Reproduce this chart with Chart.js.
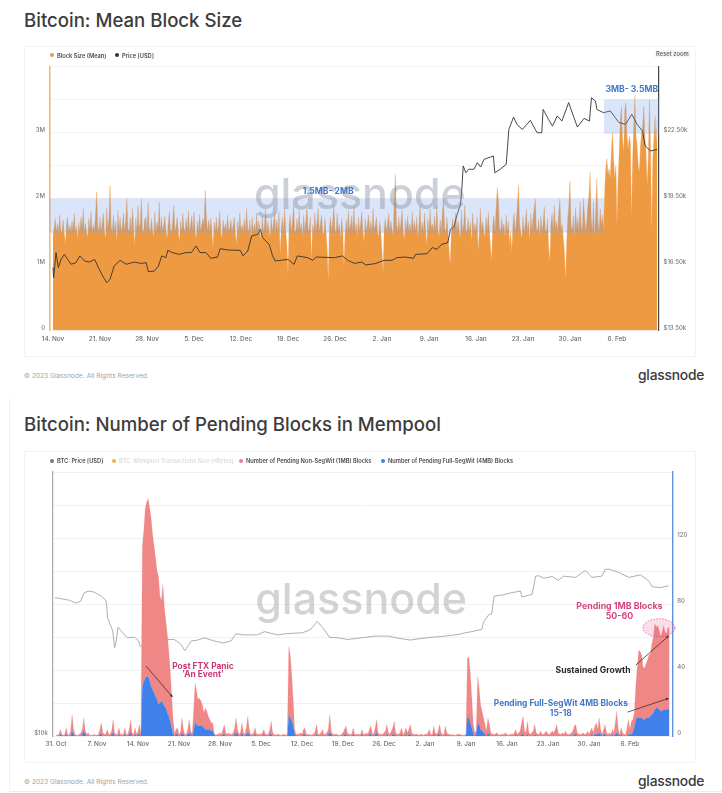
<!DOCTYPE html>
<html>
<head>
<meta charset="utf-8">
<title>Bitcoin block size and pending blocks</title>
<script src="https://cdn.jsdelivr.net/npm/chart.js@4/dist/chart.umd.min.js"></script>
<style>
  html, body { margin: 0; padding: 0; background: #fff; }
  body { position: relative; width: 722px; height: 793px; overflow: hidden; font-family: Inter, sans-serif; }
  .abs { position: absolute; white-space: nowrap; line-height: 1; }
  .title { left: 24px; font-size: 18.6px; font-weight: 500; color: #3c3c3c; }
  .panel { position: absolute; left: 24px; width: 670px; border: 1px solid #f4f4f4; }
  canvas { position: absolute; left: 0; top: 0; filter: blur(0.3px); }
  .legend { font-size: 5.7px; font-weight: 600; color: #4a4a4a; }
  .dot { position: absolute; width: 4px; height: 4px; border-radius: 50%; }
  .reset { left: 654px; top: 50px; padding: 1px 2px; font-size: 5.8px; font-weight: 600; color: #666; background: #f8f8f8; }
  .copy { left: 24px; font-size: 6.6px; color: #a2a2a2; }
  .logo { left: 638px; font-size: 13.8px; font-weight: 500; color: #383838; letter-spacing: -0.2px; }
  .frame { position: absolute; left: 9px; right: 0; top: 398px; bottom: 1px; border-left: 1px solid #f2f2f2; border-bottom: 1px solid #ececec; }
</style>
</head>
<body>
<div class="frame"></div>

<div class="abs title" style="top:11px">Bitcoin: Mean Block Size</div>
<div class="panel" style="top:46px;height:309px"><canvas id="block-chart" width="672" height="310"></canvas></div>
<span class="dot" style="left:50px;top:53px;background:#ee9a43"></span>
<div class="abs legend" style="left:57px;top:52.5px">Block Size (Mean)</div>
<span class="dot" style="left:115px;top:53px;background:#333"></span>
<div class="abs legend" style="left:122px;top:52.5px">Price [USD]</div>
<div class="abs reset">Reset zoom</div>
<div class="abs copy" style="top:373px">© 2023 Glassnode. All Rights Reserved.</div>
<div class="abs logo" style="top:369px">glassnode</div>

<div class="abs title" style="top:415px">Bitcoin: Number of Pending Blocks in Mempool</div>
<div class="panel" style="top:451px;height:310px"><canvas id="pending-chart" width="672" height="311"></canvas></div>
<span class="dot" style="left:50px;top:458.5px;background:#777"></span>
<div class="abs legend" style="left:57px;top:458px">BTC: Price [USD]</div>
<span class="dot" style="left:112px;top:458.5px;background:#e9b04c"></span>
<div class="abs legend" style="left:119px;top:458px;color:#dcdcdc">BTC: Mempool Transactions Size (vBytes)</div>
<span class="dot" style="left:239px;top:458.5px;background:#e8828a"></span>
<div class="abs legend" style="left:246px;top:458px">Number of Pending Non-SegWit (1MB) Blocks</div>
<span class="dot" style="left:381px;top:458.5px;background:#3f80ea"></span>
<div class="abs legend" style="left:388px;top:458px">Number of Pending Full-SegWit (4MB) Blocks</div>
<div class="abs copy" style="top:779px">© 2023 Glassnode. All Rights Reserved.</div>
<div class="abs logo" style="top:775px">glassnode</div>

<script>
// top chart: days count from 14 Nov, one block size reading every sixth of a day
const blockXTickDays = [0, 7, 14, 21, 28, 35, 42, 49, 56, 63, 70, 77, 84];
const blockXTickLabels = ['14. Nov', '21. Nov', '28. Nov', '5. Dec', '12. Dec', '19. Dec', '26. Dec', '2. Jan', '9. Jan', '16. Jan', '23. Jan', '30. Jan', '6. Feb'];
const blockSizeTicks = [0, 0.5, 1, 1.5, 2, 2.5, 3, 3.5, 4];
const priceTicksTop = [13.5, 16.5, 19.5, 22.5, 25.5];
const blockSizeM = [
  1.45,1.55,1.70,1.50,1.62,1.50,1.75,1.52,1.48,1.68,1.50,1.30,1.58,1.72,1.50,1.60,1.50,1.66,1.52,1.78,
  1.50,1.58,1.40,1.64,1.50,1.72,1.55,1.85,1.50,1.62,1.50,1.42,1.70,1.52,1.80,1.50,1.60,1.52,1.75,2.10,
  1.60,1.50,1.72,1.50,1.64,1.78,1.50,1.40,1.85,1.55,1.70,2.20,1.58,1.50,1.75,1.50,1.66,1.35,1.82,1.52,
  1.72,1.50,1.60,1.78,1.50,1.68,2.00,1.55,1.50,1.72,1.50,1.85,1.60,1.28,1.70,1.50,1.90,1.55,1.62,2.00,
  1.52,1.50,1.68,1.72,1.50,1.95,1.55,1.50,1.70,1.52,1.42,1.80,1.50,1.65,1.55,1.95,1.50,1.72,1.50,1.60,
  1.74,1.50,1.40,1.62,1.80,1.52,1.50,1.68,1.90,1.50,1.58,1.72,1.50,1.35,1.66,1.50,1.78,1.55,1.50,1.70,
  1.52,1.82,1.50,1.60,1.74,1.50,1.80,1.52,1.38,1.66,1.50,1.76,1.50,1.62,1.70,1.60,2.12,1.75,1.50,1.68,
  1.52,1.70,1.50,1.25,1.64,1.50,1.72,1.50,1.60,1.80,1.50,1.40,1.68,1.52,1.62,1.50,1.75,1.52,1.55,1.68,
  1.50,1.60,1.72,1.48,1.30,1.66,1.50,1.78,1.52,1.60,1.50,1.70,1.50,1.85,1.55,1.50,1.68,1.42,1.72,1.50,
  1.62,1.50,1.78,1.50,1.66,1.52,1.35,1.74,1.50,1.60,1.85,1.50,1.65,1.52,1.42,1.72,1.50,1.62,1.78,1.50,
  1.68,1.50,1.80,1.15,1.55,1.72,1.50,1.85,1.52,1.30,0.85,1.60,1.75,1.50,1.66,1.90,1.52,1.50,1.70,1.50,
  1.82,1.52,1.62,1.42,1.75,1.50,1.68,1.88,1.50,1.55,1.72,1.05,1.60,1.50,1.78,1.50,1.65,1.85,1.50,1.62,
  1.75,1.50,1.45,1.70,1.50,1.25,0.75,1.55,1.72,1.50,1.66,1.90,1.52,1.50,1.78,1.50,1.62,1.40,1.70,1.50,
  0.95,1.45,1.68,1.50,1.82,1.52,1.60,1.74,1.50,1.88,1.50,1.62,1.42,1.72,1.50,1.64,1.80,1.50,1.35,1.70,
  1.50,1.62,1.76,1.50,1.66,1.50,1.85,1.52,1.60,1.72,1.50,1.42,1.66,1.50,1.20,0.87,1.55,1.70,1.50,1.62,
  1.78,1.50,1.66,1.52,1.45,1.95,2.37,1.60,1.50,1.72,1.50,1.66,1.82,1.50,1.38,1.68,1.52,1.74,1.50,1.62,
  1.50,1.80,1.52,1.66,1.50,1.72,1.42,1.60,1.90,1.50,1.64,1.50,1.78,1.52,1.30,1.70,1.50,1.84,1.55,1.62,
  1.50,1.74,1.50,1.88,1.52,1.42,1.68,1.50,1.80,2.00,1.55,1.50,1.72,1.50,1.20,1.00,1.50,1.70,1.52,1.64,
  1.78,1.50,1.66,1.52,1.40,1.82,1.50,1.60,1.90,1.52,1.50,1.70,1.50,1.64,1.35,1.78,1.50,1.62,1.50,1.72,
  1.20,1.50,1.85,1.52,1.66,1.50,1.42,1.72,1.50,1.80,1.52,1.25,1.05,1.60,1.74,1.50,1.85,2.16,2.00,1.55,
  1.50,1.70,1.52,1.62,1.42,1.75,1.50,1.66,1.30,1.50,1.20,1.60,1.78,1.50,1.66,1.90,2.20,1.62,1.50,1.40,
  1.72,1.50,1.60,1.84,1.50,1.66,1.38,1.78,1.52,1.70,1.85,2.00,1.55,1.50,1.68,1.42,1.74,1.50,1.62,1.88,
  1.52,1.50,1.70,1.25,1.05,1.62,1.78,1.50,1.90,1.55,1.66,1.50,1.80,2.00,1.52,1.62,1.40,1.20,0.78,1.30,
  1.70,1.90,2.27,1.60,1.50,1.74,1.42,1.86,1.55,1.72,1.50,1.95,1.60,1.50,2.00,1.75,1.50,1.66,1.90,2.05,
  2.40,1.70,1.50,1.95,1.42,1.80,2.30,1.65,1.50,1.85,1.60,1.75,1.50,2.10,2.45,2.60,2.35,2.45,2.30,2.70,
  3.00,2.60,2.30,2.50,1.60,2.30,2.70,3.20,3.40,2.90,2.70,3.35,3.45,2.95,2.75,2.95,2.85,1.70,2.60,3.10,
  3.55,2.95,2.80,2.50,2.40,2.80,3.00,3.10,3.40,2.90,2.70,2.20,2.60,3.50,2.80,1.47,2.60,2.90,3.25,2.85,
  3.20
];
const priceDaysTop = [
  0,0.1,0.45,0.8,1.2,1.7,2.2,2.7,3.4,4,4.7,5.4,6.2,6.9,7.4,8,8.5,9.1,10,10.9,
  12.1,13.1,13.9,14.2,15.1,15.7,16.2,16.8,17.1,17.8,18.8,19.8,20.6,21.3,21.9,22.8,23.5,24.5,24.9,26,
  27.9,28.3,29,29.6,30.5,30.9,31.2,32.2,32.7,33.1,35,35.9,36.4,37.9,38.7,39.2,41.9,43.1,43.9,44.9,
  46,46.6,48,49.3,50.5,51.2,52.5,53.7,54,55.7,56.5,57.2,57.9,58.8,59.2,59.7,60.2,60.7,60.9,61.1,
  61.5,61.9,62.7,63.2,63.7,64.2,65.6,65.8,66.6,67.5,67.9,68.6,69.1,69.9,71.1,72.1,72.8,73,73.8,74.4,
  75.1,75.8,76.8,77.6,78.1,79.1,79.9,80.2,80.8,81,82,83,84.3,85.3,86.2,87,87.8,88.2,89,90
];
const priceUsdKTop = [
  16.36,15.9,17.04,16.36,16.73,16.96,16.73,16.51,16.58,16.89,16.66,16.61,16.73,16.28,15.98,15.67,15.83,16.43,16.69,16.51,
  16.61,16.55,16.58,16.17,16.2,16.43,16.89,16.81,17.14,17.04,16.96,17.04,17.04,17.34,17.04,17.04,16.78,16.84,17.22,17.16,
  17.14,16.89,17.11,17.8,17.87,18.1,17.72,17.42,16.89,16.66,16.73,16.51,16.89,16.81,16.69,16.84,16.81,16.89,16.69,16.55,
  16.61,16.48,16.54,16.69,16.69,16.81,16.84,16.78,16.96,16.99,17.27,17.19,17.42,17.49,18.1,18.2,18.78,19.23,19.99,20.98,
  20.67,20.83,20.83,21.13,20.93,21.28,21.43,20.67,20.83,21.05,22.64,23.2,22.87,22.64,23.05,22.49,22.49,23.55,23.1,22.79,
  23.25,23.02,23.86,23.17,22.75,23.14,23.02,24.08,23.93,23.55,23.4,23.48,22.95,22.87,23.33,22.87,22.57,21.89,21.66,21.73
];

// bottom chart: days count from 31 Oct, one pending block reading every quarter of a day
const pendingXTickDays = [0, 7, 14, 21, 28, 35, 42, 49, 56, 63, 70, 77, 84, 91, 98];
const pendingXTickLabels = ['31. Oct', '7. Nov', '14. Nov', '21. Nov', '28. Nov', '5. Dec', '12. Dec', '19. Dec', '26. Dec', '2. Jan', '9. Jan', '16. Jan', '23. Jan', '30. Jan', '6. Feb'];
const pendingTicks = [0, 20, 40, 60, 80, 100, 120, 140, 160];
const pendingNonSegwit = [
  0.5,0.5,1,3,1,0.5,1,4,1,0.5,
  3,10,3,1,0.5,0.5,1,2,3,8,
  2,1,2,0.5,0.5,0.5,1,0.5,0.5,1,
  3,7,2,1,1,3.5,1,1,2,8,
  2,1,1,4,1,1,1,4,1,1,
  3,8,2,1,4,1,2,6,1,85,
  92,103,106,108,105,102,94,89,84,78,
  78,65,61,72,60,53,48,40,31,20,
  9,1.5,3,4,1,2,9,3,1,1,
  3,8,2,1,12,24,20,16,17,15,
  13,9,13,11,8,6,5,5,1,0.5,
  1,1,2,1,3,6,2,1,2,1,
  1,2,4,9,3,1,2,6,2,1,
  4,10,3,1,1,2,4,1,1,1,
  1,2,3,1,1,1,3,8,2,1,
  0.5,1,1,0.5,0.5,1,1,0.5,1,42,
  38,28,16,3,1,1,1,2,1,3,
  4,1,1,1,0.5,1,1,3,6,1,
  1,2,4,1,1,2,3,11,2,1,
  1,1,1,0.5,0.5,1,2,3,5,2,
  1,1,1,4,1,1,1,1,1,3,
  1,1,2,1,3,5,2,1,4,8,
  2,1,1,1,2,3,6,2,1,3,
  4,8,2,1,1,2,4,1,2,4,
  2,3,6,2,1,1,1,1,0.5,1,
  1,0.5,1,1,2,4,1,1,5,2,
  1,2,6,2,1,1,5,2,1,1,
  0.5,1,0.5,0.5,1,1,1,0.5,0.5,0.5,
  1,36,37,30,18,6,2,2,28,22,
  15,12,9,6,3,9,6,2,1,1,
  1,2,1,0.5,1,1,1,2,1,0.5,
  1,1,1,2,3,1,2,3,7,11,
  3,2,8,2,1,2,3,6,2,1,
  1,3,1,1,2,3,1,1,2,3,
  2,4,7,2,1,1,2,1,3,1,
  1,1,2,3,5,6,2,1,1,1,
  2,1,1,3,1,3,4,2,5,7,
  3,9,3,1,3,6,2,1,2,1,
  3,2,7,13,3,1,4,2,1,1,
  5,9,3,8,8,9,20,31,41,40,
  38,32,31,33,35,38,38,43,46,52,
  49,50,48,45,48,51,47,46,50,48
];
const pendingFullSegwit = [
  0,0,0,1,0,0,0,1,0,0,
  0,3,1,0,0,0,0,0,1,3,
  1,0,0,0,0,0,0,0,0,0,
  1,1,0,0,0,0.5,0,0,1,2,
  0,0,0,1,0,0,0,1,0,0,
  1,2,0,0,1,0,1,1,0,30,
  33,35,36,36,33,30,28,26,24,22,
  19,20,21,20,18,17,14,12,9,5,
  1,0,1,1,0,0,2,1,0,0,
  1,2,1,0,3,8,7,6,6,6,
  6,5,4,4,4,4,3,3,1,0,
  0,0,0,0,1,1,0,0,0,0,
  0,0,1,2,1,0,0,2,0,0,
  1,2,1,0,0,0,1,0,0,0,
  0,0,1,0,0,0,1,1,0,0,
  0,0,0,0,0,0,0,0,0,12,
  11,9,6,1,0,0,0,0,0,1,
  1,0,0,0,0,0,0,0,1,0,
  0,0,0,0,0,0,1,2,1,0,
  0,0,0,0,0,0,0,1,1,0,
  0,0,0,1,0,0,0,0,0,1,
  0,0,0,0,1,1,0,0,1,2,
  0,0,0,0,0,0,1,0,0,0,
  1,1,0,0,0,0,1,0,0,1,
  0,1,1,0,0,0,0,0,0,0,
  0,0,0,0,0,0,0,0,1,0,
  0,1,1,0,0,0,1,0,0,0,
  0,0,0,0,0,0,0,0,0,0,
  0,11,11,8,5,1,0,1,8,7,
  4,3,2,1,0,2,1,0,0,0,
  0,0,0,0,0,0,0,0,0,0,
  0,0,0,0,1,0,0,0,1,1,
  0,0,1,0,0,0,0,1,0,0,
  0,0,0,0,0,0,0,0,0,0,
  0,0,0,0,0,0,0,0,0,0,
  0,0,0,0,1,1,0,0,0,0,
  0,0,0,0,0,0,1,0,1,1,
  1,2,1,0,1,1,0,0,0,0,
  1,0,1,2,1,0,1,0,0,0,
  0,1,1,1,2,5,10,11,11,11,
  11,10,10,11,11,11,12,13,14,16,
  17,17,16,15,15,16,16,16,16,17
];
const priceDaysBottom = [
  -0.2,0.6,1.4,2.3,3.4,4.2,4.8,5.5,6.5,7.7,8.5,8.7,8.8,9.7,10,10.2,10.6,11.4,12.2,13.4,14.1,14.4,
  16,17.5,19.1,20.2,21.3,22,23.1,24.2,25.3,27,28.5,29.9,30.7,32.2,34.4,35.6,37.8,39,42.1,43.5,44.6,45.5,46.7,48.1,49.8,
  52.2,54.5,56.8,58.5,60.5,62.5,64.2,66.5,68.8,69.9,71,72.7,73,73.8,74.4,74.8,
  76.1,77.6,79.3,79.6,81.3,81.9,82.4,83.3,84.7,85.8,86.7,88.7,90.4,91.5,93.2,93.8,94.6,96.1,97.8,99.8,101.2,101.8,103.2,104.6
];
const priceUsdKBottom = [
  20.67,20.6,20.5,20.4,20.1,20.3,21.2,21.4,21.3,20.85,20.4,19.6,18.6,17.36,15.9,16.2,17.7,17.2,16.75,16.8,16.47,16,
  16.4,16.6,16.6,16.6,16.2,15.65,16.47,16.55,16.75,16.47,16.3,16.47,17.1,17,17,17.3,17,17.1,17.2,17.5,18.25,17.7,16.8,16.75,16.6,
  16.75,16.9,16.9,16.7,16.55,16.7,16.8,16.9,17.05,17.2,17.3,17.5,18.15,18.85,19,20.85,
  20.95,21.2,21.4,20.75,21.05,23.15,23.2,22.9,23.1,22.65,23.15,23,23.85,23,23.15,24,24,23.6,23,23.3,22.6,21.9,21.8,22
];

const FONT = 'Inter, sans-serif';
const ORANGE = '#ee9a43';
const PINK = '#c9377a';
const BLUE_NOTE = '#4278c8';

// bands, notes and arrows are anchored in data units so they follow the scales
const blockBands = [
  { from: -0.52, to: 82.07, low: 1.48, high: 2 },
  { from: 82.07, to: 90.26, low: 2.98, high: 3.5 }
];
const blockNotes = [
  { text: '1.5MB- 2MB', x: 41, y: 2.11, color: BLUE_NOTE, size: 8.6 },
  { text: '3MB- 3.5MB', x: 86.2, y: 3.66, color: BLUE_NOTE, size: 8.6 }
];
const pendingNotes = [
  { text: 'Post FTX Panic', x: 25.1, y: 42.4, color: PINK, size: 8.4 },
  { text: "'An Event'", x: 25.1, y: 37, color: PINK, size: 8.4 },
  { text: 'Pending 1MB Blocks', x: 96.2, y: 78.4, color: '#d4457f', size: 8.8 },
  { text: '50-60', x: 96.2, y: 72.3, color: '#d4457f', size: 8.8 },
  { text: 'Sustained Growth', x: 91.7, y: 39.8, color: '#2b2b2b', size: 8.6 },
  { text: 'Pending Full-SegWit 4MB Blocks', x: 86.2, y: 19.6, color: BLUE_NOTE, size: 8.4 },
  { text: '15-18', x: 86.2, y: 13.8, color: BLUE_NOTE, size: 8.4 }
];
const pendingArrows = [
  { x1: 15.37, y1: 42.4, x2: 19.9, y2: 23.6 },
  { x1: 99, y1: 43, x2: 104.6, y2: 60.6 },
  { x1: 97.6, y1: 14.5, x2: 104.6, y2: 22.8 }
];

function points(days, values){
  return values.map((v, i) => ({ x: days[i], y: v }));
}
function everyStep(values, step){
  return values.map((v, i) => ({ x: i * step, y: v }));
}

function drawNotes(chart, notes, yId){
  const c = chart.ctx, sx = chart.scales.x, sy = chart.scales[yId];
  c.save();
  c.textAlign = 'center';
  c.textBaseline = 'middle';
  notes.forEach(n => {
    c.font = `700 ${n.size}px ${FONT}`;
    c.fillStyle = n.color;
    c.fillText(n.text, sx.getPixelForValue(n.x), sy.getPixelForValue(n.y));
  });
  c.restore();
}
function drawWatermark(chart, yId, day, value, size, color){
  const c = chart.ctx;
  c.save();
  c.font = `500 ${size}px ${FONT}`;
  c.textAlign = 'center';
  c.textBaseline = 'alphabetic';
  c.fillStyle = color;
  c.fillText('glassnode', chart.scales.x.getPixelForValue(day), chart.scales[yId].getPixelForValue(value));
  c.restore();
}
function drawArrow(chart, a, yId){
  const c = chart.ctx, sx = chart.scales.x, sy = chart.scales[yId];
  const x1 = sx.getPixelForValue(a.x1), y1 = sy.getPixelForValue(a.y1);
  const x2 = sx.getPixelForValue(a.x2), y2 = sy.getPixelForValue(a.y2);
  const ang = Math.atan2(y2 - y1, x2 - x1);
  c.save();
  c.strokeStyle = c.fillStyle = '#4a2a2a';
  c.lineWidth = 0.8;
  c.beginPath();
  c.moveTo(x1, y1);
  c.lineTo(x2, y2);
  c.stroke();
  c.beginPath();
  c.moveTo(x2, y2);
  c.lineTo(x2 - 3 * Math.cos(ang - 0.5), y2 - 3 * Math.sin(ang - 0.5));
  c.lineTo(x2 - 3 * Math.cos(ang + 0.5), y2 - 3 * Math.sin(ang + 0.5));
  c.fill();
  c.restore();
}

const blockOverlay = {
  id: 'blockOverlay',
  afterDatasetsDraw(chart){
    const c = chart.ctx, sx = chart.scales.x, sy = chart.scales.y;
    c.save();
    blockBands.forEach(b => {
      const x = sx.getPixelForValue(b.from), y = sy.getPixelForValue(b.high);
      c.fillStyle = 'rgba(118,160,232,0.27)';
      c.fillRect(x, y, sx.getPixelForValue(b.to) - x, sy.getPixelForValue(b.low) - y);
    });
    c.restore();
    drawWatermark(chart, 'y', 45.7, 1.84, 43, 'rgba(130,140,160,0.42)');
    drawNotes(chart, blockNotes, 'y');
  }
};

const pendingOverlay = {
  id: 'pendingOverlay',
  afterDatasetsDraw(chart){
    const c = chart.ctx, sx = chart.scales.x, sy = chart.scales.y;
    drawWatermark(chart, 'y', 52.1, 74, 43, 'rgba(150,150,150,0.42)');
    // dashed ellipse around the 1MB plateau
    const cx = sx.getPixelForValue(102.95), cy = sy.getPixelForValue(65.6);
    c.save();
    c.beginPath();
    c.ellipse(cx, cy, sx.getPixelForValue(105.68) - cx, cy - sy.getPixelForValue(71.05), 0, 0, Math.PI * 2);
    c.fillStyle = 'rgba(226,90,150,0.2)';
    c.fill();
    c.setLineDash([1.5, 1.5]);
    c.lineWidth = 0.7;
    c.strokeStyle = '#d4457f';
    c.stroke();
    c.restore();
    pendingArrows.forEach(a => drawArrow(chart, a, 'y'));
    drawNotes(chart, pendingNotes, 'y');
  }
};

function fixedSize(prop, size){
  return scale => { scale[prop] = size; };
}
function xAxis(min, max, days, labels, height){
  return {
    type: 'linear', min, max,
    afterBuildTicks: axis => { axis.ticks = days.map(d => ({ value: d })); },
    afterFit: fixedSize('height', height),
    grid: { display: false, drawTicks: false },
    border: { display: false },
    ticks: {
      autoSkip: false, maxRotation: 0, padding: 4.5, color: '#6a6a6a',
      font: { family: FONT, size: 6.4, weight: '500' },
      callback: (v, i) => labels[i]
    }
  };
}
function yAxisBase(position, width, borderColor, borderWidth){
  return {
    position,
    afterFit: fixedSize('width', width),
    border: { color: borderColor, width: borderWidth },
    ticks: {
      autoSkip: false, padding: 4.5, labelOffset: -2.5, color: '#7a7a7a',
      font: { family: FONT, size: 6, weight: '500' }
    }
  };
}
const baseOptions = {
  responsive: false,
  animation: false,
  events: [],
  elements: { point: { radius: 0 } },
  plugins: { legend: { display: false }, tooltip: { enabled: false } }
};

function drawBlockChart(){
  const left = yAxisBase('left', 24.5, '#f3b678', 1.6);
  const right = yAxisBase('right', 38, '#444', 1.2);
  new Chart(document.getElementById('block-chart'), {
    type: 'line',
    plugins: [blockOverlay],
    data: {
      datasets: [
        { label: 'Price [USD]', data: points(priceDaysTop, priceUsdKTop), yAxisID: 'price', borderColor: '#333', borderWidth: 0.9, order: 0 },
        { label: 'Block Size (Mean)', data: everyStep(blockSizeM, 1 / 6), yAxisID: 'y', borderColor: ORANGE, borderWidth: 0.3, backgroundColor: ORANGE, fill: 'origin', order: 1 }
      ]
    },
    options: {
      ...baseOptions,
      layout: { padding: { top: 19.5 } },
      scales: {
        x: xAxis(-0.52, 90.26, blockXTickDays, blockXTickLabels, 26.5),
        y: {
          ...left, min: 0, max: 4,
          afterBuildTicks: axis => { axis.ticks = blockSizeTicks.map(v => ({ value: v })); },
          grid: { color: '#f3f3f3', drawTicks: false },
          ticks: { ...left.ticks, callback: v => (v === 0 ? '0' : (Number.isInteger(v) && v < 4 ? v + 'M' : '')) }
        },
        price: {
          ...right, min: 13.5, max: 25.5,
          afterBuildTicks: axis => { axis.ticks = priceTicksTop.map(v => ({ value: v })); },
          grid: { display: false, drawTicks: false },
          ticks: { ...right.ticks, callback: v => (v < 25 ? '$' + v.toFixed(2) + 'k' : '') }
        }
      }
    }
  });
}

function drawPendingChart(){
  const right = yAxisBase('right', 24.3, '#5f93de', 1.4);
  const left = yAxisBase('left', 27.3, '#a8a8a8', 1.2);
  new Chart(document.getElementById('pending-chart'), {
    type: 'line',
    plugins: [pendingOverlay],
    data: {
      datasets: [
        { label: 'BTC: Price [USD]', data: points(priceDaysBottom, priceUsdKBottom), yAxisID: 'price', borderColor: '#9a9a9a', borderWidth: 0.8, order: 2 },
        { label: 'Number of Pending Full-SegWit (4MB) Blocks', data: everyStep(pendingFullSegwit, 0.25), yAxisID: 'y', borderColor: '#3f80ea', borderWidth: 0.2, backgroundColor: '#3f80ea', fill: 'origin', order: 0 },
        { label: 'Number of Pending Non-SegWit (1MB) Blocks', data: everyStep(pendingNonSegwit, 0.25), yAxisID: 'y', borderColor: '#ee8785', borderWidth: 0.2, backgroundColor: '#ee8785', fill: '-1', order: 1 }
      ]
    },
    options: {
      ...baseOptions,
      layout: { padding: { top: 20 } },
      scales: {
        x: xAxis(-0.63, 105.3, pendingXTickDays, pendingXTickLabels, 27),
        y: {
          ...right, stacked: true, min: 0, max: 160,
          afterBuildTicks: axis => { axis.ticks = pendingTicks.map(v => ({ value: v })); },
          grid: { color: '#f1f1f1', drawTicks: false },
          ticks: { ...right.ticks, callback: v => (v % 40 === 0 && v < 160 ? String(v) : '') }
        },
        price: {
          ...left, type: 'logarithmic', min: 10, max: 40,
          afterBuildTicks: axis => { axis.ticks = [{ value: 10 }]; },
          grid: { display: false, drawTicks: false },
          ticks: { ...left.ticks, callback: v => '$' + v + 'k' }
        }
      }
    }
  });
}

document.addEventListener('DOMContentLoaded', () => {
  drawBlockChart();
  drawPendingChart();
});
</script>
</body>
</html>
